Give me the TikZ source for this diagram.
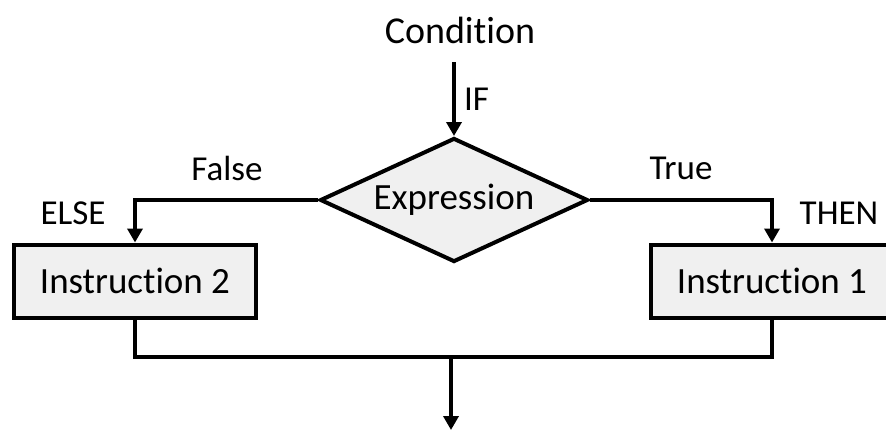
\documentclass[tikz,border=0pt]{standalone}
\usepackage{fontspec}
\setmainfont[Ligatures=NoCommon]{Carlito}
\usetikzlibrary{arrows.meta,shapes.geometric}
\tikzset{
  blk/.style={draw,line width=4pt,fill=black!6,minimum width=242pt,minimum height=73pt,inner sep=0pt,font=\fontsize{37}{40}\selectfont},
  cond/.style={draw,line width=4pt,fill=black!6,shape=diamond,aspect=2.1,minimum width=268pt,minimum height=124pt,inner sep=0pt,font=\fontsize{37}{40}\selectfont},
  lbl/.style={font=\fontsize{35}{38}\selectfont,inner sep=0pt},
  arr/.style={-{Triangle[length=14pt,width=15pt]},line width=4pt},
  ln/.style={line width=4pt}
}
\begin{document}
\begin{tikzpicture}[x=1pt,y=-1pt]
    \useasboundingbox(0,0)rectangle(886,429);
    \node[font=\fontsize{38}{40}\selectfont,inner sep=0pt](condition)at(460,30){Condition};
    \coordinate(ifin)at(454,62);
    \node[cond](expr)at(454,200){Expression};
    \node[blk](ins2)at(135,281){Instruction 2};
    \node[blk](ins1)at(772,281){Instruction 1};
    \coordinate(merge)at(451,357);
    \coordinate(out)at(451,430);
    \draw[arr](ifin)--(expr.north)node[midway,right=8pt,lbl]{IF};%条件
    \draw[arr](expr.west)-|(ins2.north);
    \draw[arr](expr.east)-|(ins1.north);
    \node[lbl](false)at(227,168){False};
    \node[lbl](true)at(681,168){True};
    \node[lbl](else)at(73,213){ELSE};
    \node[lbl](then)at(839,213){THEN};
    \draw[ln](ins2.south)|-(merge)-|(ins1.south);%合流
    \draw[arr](merge)--(out);
  \end{tikzpicture}
\end{document}
